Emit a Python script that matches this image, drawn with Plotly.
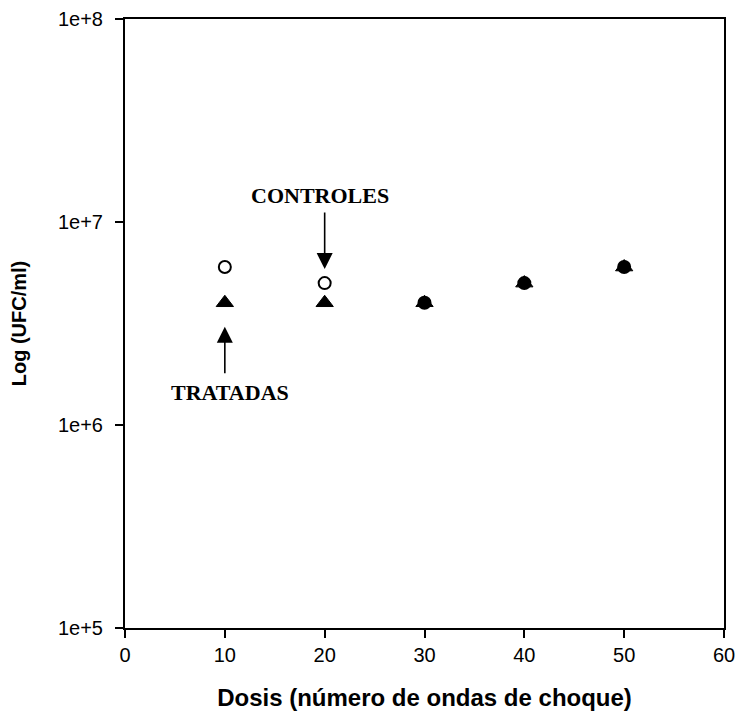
import plotly.graph_objects as go

dosis = [10, 20, 30, 40, 50]
controles = [6.0e6, 5.0e6, 4.0e6, 5.0e6, 6.0e6]
tratadas = [4.0e6, 4.0e6, 4.0e6, 5.0e6, 6.0e6]
x_ticks = [0, 10, 20, 30, 40, 50, 60]
y_ticks = [1e5, 1e6, 1e7, 1e8]
y_tick_labels = ["1e+5", "1e+6", "1e+7", "1e+8"]

# controls that coincide with treated values appear as filled blobs
ctrl_fill = ["black" if c == t else "white" for c, t in zip(controles, tratadas)]

fig = go.Figure()
fig.add_trace(go.Scatter(
    x=dosis, y=controles, mode="markers", name="Controles",
    marker=dict(symbol="circle", size=12, color=ctrl_fill,
                line=dict(color="black", width=2)),
))
fig.add_trace(go.Scatter(
    x=dosis, y=tratadas, mode="markers", name="Tratadas",
    marker=dict(symbol="triangle-up", size=15, color="black",
                line=dict(color="black", width=1)),
))

axis_font = dict(family="Liberation Sans, Arial", size=20, color="black")

fig.update_layout(
    width=737, height=718,
    margin=dict(l=125, r=13, t=19, b=90),
    paper_bgcolor="white", plot_bgcolor="white",
    showlegend=False,
    xaxis=dict(
        range=[0, 60], tickvals=x_ticks, ticks="outside", ticklen=8,
        tickwidth=2, tickcolor="black", showline=True, linecolor="black",
        linewidth=2, mirror=True, showgrid=False, zeroline=False,
        tickfont=axis_font, automargin=False,
        title=dict(text="<b>Dosis (número de ondas de choque)</b>",
                   font=dict(family="Liberation Sans, Arial", size=24, color="black"),
                   standoff=24),
    ),
    yaxis=dict(
        type="log", range=[5, 8], tickvals=y_ticks, ticktext=y_tick_labels,
        ticks="outside", ticklen=8, tickwidth=2, tickcolor="black",
        ticklabelstandoff=8, automargin=False,
        showline=True, linecolor="black", linewidth=2, mirror=True,
        showgrid=False, zeroline=False, tickfont=axis_font,
        title=dict(text="<b>Log (UFC/ml)</b>",
                   font=dict(family="Liberation Sans, Arial", size=20, color="black"),
                   standoff=26),
    ),
)

serif = dict(family="Liberation Serif, Times New Roman", size=22, color="black")

# Arrows
fig.add_annotation(x=dosis[1], y=6.699, xref="x", yref="y", text="",
                   showarrow=True, ax=0, ay=-72, standoff=14,
                   arrowhead=2, arrowsize=2, arrowwidth=1.6, arrowcolor="black")
fig.add_annotation(x=dosis[0], y=6.602, xref="x", yref="y", text="",
                   showarrow=True, ax=0, ay=72, standoff=24,
                   arrowhead=2, arrowsize=2, arrowwidth=1.6, arrowcolor="black")
# Labels
fig.add_annotation(x=19.5, y=7.13, xref="x", yref="y", text="<b>CONTROLES</b>",
                   showarrow=False, font=serif)
fig.add_annotation(x=10.5, y=6.16, xref="x", yref="y", text="<b>TRATADAS</b>",
                   showarrow=False, font=serif)

fig.write_html("out.html", config={"displayModeBar": False},
               post_script="document.body.style.margin='0px';")
